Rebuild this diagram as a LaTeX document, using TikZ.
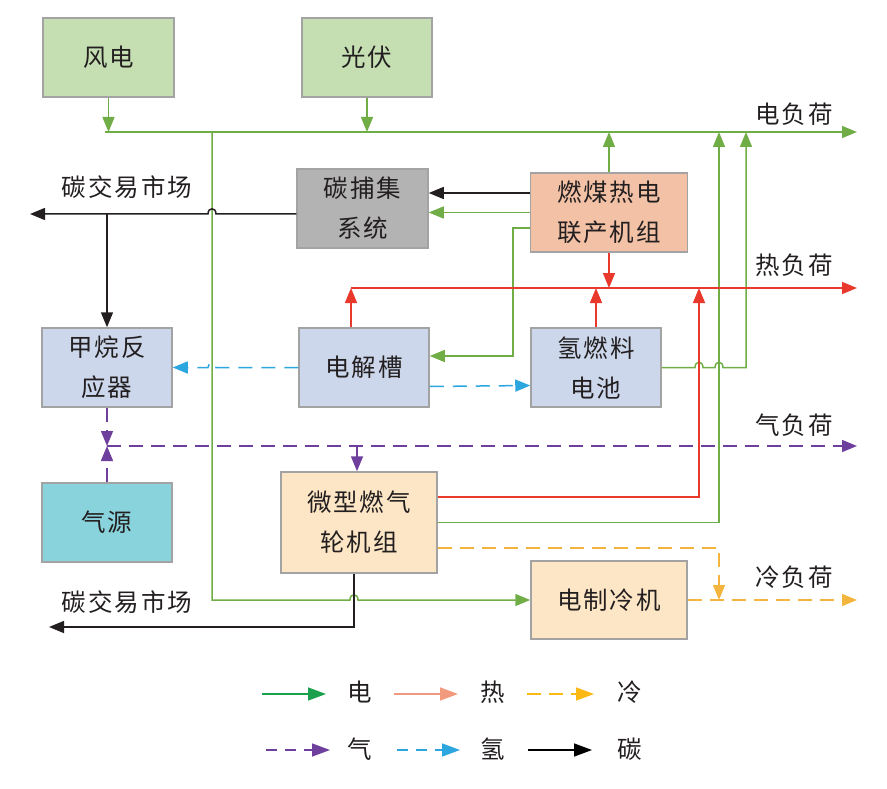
\documentclass[tikz,border=0pt]{standalone}
\usepackage{fontspec}
\setmainfont{Noto Sans CJK SC}[LetterSpace=8]
\usetikzlibrary{arrows.meta,calc}
\definecolor{elc}{HTML}{70AD47}
\definecolor{hec}{HTML}{E8392C}
\definecolor{gac}{HTML}{6F3F9E}
\definecolor{hyc}{HTML}{2CA6DF}
\definecolor{coc}{HTML}{F4B53F}
\definecolor{cac}{HTML}{231F20}
\definecolor{lgel}{HTML}{1BA04E}
\definecolor{lghe}{HTML}{F29A7E}
\definecolor{lgco}{HTML}{FDB913}
\definecolor{bxborder}{HTML}{A3A3A3}
\definecolor{fgreen}{HTML}{C5DFB3}
\definecolor{fgray}{HTML}{B3B3B4}
\definecolor{fsalmon}{HTML}{F3C1A5}
\definecolor{fblue}{HTML}{CCD7EB}
\definecolor{fcyan}{HTML}{89D3DC}
\definecolor{fyellow}{HTML}{FCE6C5}
\begin{document}
\begin{tikzpicture}[x=1pt,y=-1pt,
  txt/.style={font=\fontsize{24.5}{40}\selectfont, text=cac},
  box/.style={txt, draw=bxborder, line width=1.5pt, align=center, inner sep=0pt},
  tip/.style={-{Triangle[length=15pt,width=12pt]}},
  ltip/.style={-{Triangle[length=18pt,width=13pt]}},
  ln/.style={line width=1.5pt},
  el/.style={ln, draw=elc, color=elc},
  he/.style={ln, draw=hec, color=hec},
  ga/.style={ln, draw=gac, color=gac, dash pattern=on 14pt off 8pt},
  hy/.style={ln, draw=hyc, color=hyc, dash pattern=on 14pt off 9pt},
  co/.style={ln, draw=coc, color=coc, dash pattern=on 14pt off 8pt},
  ca/.style={ln, draw=cac, color=cac},
  lab/.style={txt}
]
\useasboundingbox (0,0) rectangle (887,789);

% boxes
\node[box, fill=fgreen, minimum width=131pt, minimum height=79pt] (wind) at (108.5,57.5) {风电};
\node[box, fill=fgreen, minimum width=130pt, minimum height=79pt] (pv) at (367,57.5) {光伏};
\node[box, fill=fgray, minimum width=131pt, minimum height=79pt] (ccs) at (362.5,208.5) {碳捕集\\系统};
\node[box, fill=fsalmon, minimum width=157pt, minimum height=79pt] (chp) at (609,212.5) {燃煤热电\\联产机组};
\node[box, fill=fblue, minimum width=130pt, minimum height=79pt] (meth) at (107,367.5) {甲烷反\\应器};
\node[box, fill=fblue, minimum width=130pt, minimum height=79pt] (ele) at (364,367.5) {电解槽};
\node[box, fill=fblue, minimum width=130pt, minimum height=79pt] (fc) at (596,367.5) {氢燃料\\电池};
\node[box, fill=fcyan, minimum width=130pt, minimum height=79pt] (gas) at (107,522.5) {气源};
\node[box, fill=fyellow, minimum width=156pt, minimum height=101pt] (mt) at (359,522.5) {微型燃气\\轮机组};
\node[box, fill=fyellow, minimum width=156pt, minimum height=78pt] (chill) at (609,600) {电制冷机};

% labels
\node[lab] (lel) at (794,114) {电负荷};
\node[lab] (lhe) at (794,265) {热负荷};
\node[lab] (lga) at (794,425) {气负荷};
\node[lab] (lco) at (794,577) {冷负荷};
\node[lab] (lm1) at (127,187) {碳交易市场};
\node[lab] (lm2) at (127,602) {碳交易市场};

% bus coordinates
\coordinate (eb0) at (105,132);
\coordinate (ebE) at (857,132);
\coordinate (hb0) at (351,288);
\coordinate (hbE) at (857,288);
\coordinate (gb0) at (107,446);
\coordinate (gbE) at (857,446);
\coordinate (cbE) at (857,600);
\coordinate (gv) at (212,132);
\coordinate (hr) at (699,288);
\coordinate (ebin2) at (719,132);
\coordinate (ebin3) at (746,132);
\coordinate (oc) at (719,600);
\coordinate (mk1) at (30,214);
\coordinate (mk2) at (49,627);

% electricity
\draw[el,tip] (eb0) -- (ebE);
\draw[el,tip] (wind.south) -- (wind.south |- eb0);
\draw[el,tip] (pv.south) -- (pv.south |- eb0);
\draw[el,tip] (chp.north) -- (chp.north |- eb0);
\draw[el,tip] (mt.east) -| (ebin2);
\draw[el,tip] (fc.east) -- ($(hr|-fc.east)+(-4,0)$) .. controls +(0,-7) and +(0,-7) .. ($(hr|-fc.east)+(4,0)$)
   -- ($(ebin2|-fc.east)+(-4,0)$) .. controls +(0,-7) and +(0,-7) .. ($(ebin2|-fc.east)+(4,0)$) -| (ebin3);
\draw[el,tip] (chp.west) -- (chp.west -| ccs.east);
\draw[el,tip] ([yshift=-15.5pt]chp.west) -- ++(-17,0) |- ([yshift=11.5pt]ele.east);
\coordinate (mtc) at ([xshift=-5pt]mt.south |- chill.west);
\draw[el,tip] (gv) |- ($(mtc)+(-4,0)$) .. controls +(0,-7) and +(0,-7) .. ($(mtc)+(4,0)$) -- (chill.west);

% heat
\draw[he,tip] (hb0) -- (hbE);
\draw[he,tip] ([xshift=-13pt]ele.north) -- (hb0);
\draw[he,tip] (fc.north) -- (fc.north |- hb0);
\draw[he,tip] (chp.south) -- (chp.south |- hb0);
\draw[he,tip] ([yshift=25.5pt]mt.east) -| (hr);

% carbon
\draw[ca,tip] ([yshift=19.5pt]chp.west) -- ([yshift=19.5pt]chp.west -| ccs.east);
\coordinate (cj) at (gv |- mk1);
\draw[ca,tip] ([yshift=-5.5pt]ccs.west) -- ($(cj)+(4,0)$) .. controls +(0,-7) and +(0,-7) .. ($(cj)+(-4,0)$) -- (mk1);
\draw[ca,tip] (meth.north |- mk1) -- (meth.north);
\draw[ca,tip] ([xshift=-5pt]mt.south) |- (mk2);

% hydrogen
\coordinate (hj) at (gv |- ele.west);
\draw[hy,tip] (ele.west) -- ($(hj)+(4,0)$) .. controls +(0,-6) and +(0,-6) .. ($(hj)+(-4,0)$) -- (meth.east);
\draw[hy,tip] ([yshift=-19pt]ele.east) -- ([yshift=-18pt]ele.east -| fc.west);

% gas
\draw[ga,tip] (gb0) -- (gbE);
\draw[ga,tip] (meth.south) -- (meth.south |- gb0);
\draw[ga,tip] (gas.north) -- (gas.north |- gb0);
\draw[ga,tip] ([xshift=-2pt]mt.north |- gb0) -- ([xshift=-2pt]mt.north);

% cold
\draw[co,tip] ([yshift=-25.5pt]mt.east) -| (oc);
\draw[co,tip] (chill.east) -- (cbE);

% legend
\coordinate (l1a) at (262,694); \coordinate (l1b) at (326,694);
\coordinate (l2a) at (394,694); \coordinate (l2b) at (458,694);
\coordinate (l3a) at (527,694); \coordinate (l3b) at (594,694);
\coordinate (l4a) at (266,750); \coordinate (l4b) at (330,750);
\coordinate (l5a) at (397,750); \coordinate (l5b) at (460,750);
\coordinate (l6a) at (528,750); \coordinate (l6b) at (592,750);
\draw[ln, draw=lgel, color=lgel, ltip] (l1a) -- (l1b);
\draw[ln, draw=lghe, color=lghe, ltip] (l2a) -- (l2b);
\draw[ln, draw=lgco, color=lgco, dash pattern=on 14pt off 8pt, ltip] (l3a) -- (l3b);
\draw[ln, draw=gac, color=gac, dash pattern=on 11pt off 8pt, ltip] (l4a) -- (l4b);
\draw[ln, draw=hyc, color=hyc, dash pattern=on 11pt off 8pt, ltip] (l5a) -- (l5b);
\draw[ln, draw=black, color=black, ltip] (l6a) -- (l6b);
\node[lab] (t1) at (360,692) {电};
\node[lab] (t2) at (493,692) {热};
\node[lab] (t3) at (630,692) {冷};
\node[lab] (t4) at (360,749) {气};
\node[lab] (t5) at (493,749) {氢};
\node[lab] (t6) at (630,749) {碳};
\end{tikzpicture}
\end{document}
